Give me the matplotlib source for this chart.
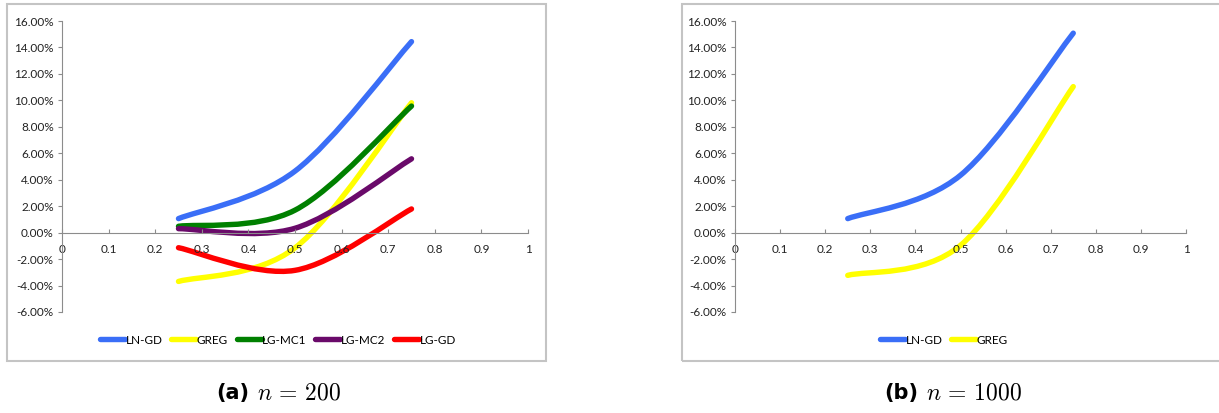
import matplotlib
matplotlib.use("Agg")
import matplotlib.pyplot as plt
from matplotlib.path import Path
from matplotlib.patches import PathPatch, Rectangle
from matplotlib.lines import Line2D
from matplotlib.ticker import FuncFormatter, MultipleLocator

plt.rcParams['font.family'] = ['Lato', 'DejaVu Sans']
plt.rcParams['mathtext.fontset'] = 'cm'

# x values of the three design points
x_pts = [0.25, 0.5, 0.75]

# panel (a) n = 200, bias in %
a_names = ['LN-GD', 'GREG', 'LG-MC1', 'LG-MC2', 'LG-GD']
a_lngd = [1.06, 4.65, 14.44]
a_greg = [-3.69, -1.15, 9.82]
a_mc1 = [0.48, 1.7, 9.57]
a_mc2 = [0.30, 0.33, 5.58]
a_lggd = [-1.14, -2.85, 1.79]

# panel (b) n = 1000
b_names = ['LN-GD', 'GREG']
b_lngd = [1.06, 4.34, 15.08]
b_greg = [-3.23, -0.96, 11.04]

colors = {'LN-GD': '#3a6ef7', 'GREG': '#ffff00', 'LG-MC1': '#008000',
          'LG-MC2': '#6a0a6a', 'LG-GD': '#ff0000'}

W, H = 1219, 413


def smooth_path(xs, ys):
    # Excel style smoothed line: cubic bezier segments (catmull-rom tangents)
    pts = list(zip(xs, ys))
    n = len(pts)
    verts = [pts[0]]
    codes = [Path.MOVETO]
    for i in range(n - 1):
        p0 = pts[i - 1] if i > 0 else pts[i]
        p1 = pts[i]
        p2 = pts[i + 1]
        p3 = pts[i + 2] if i + 2 < n else pts[i + 1]
        c1 = (p1[0] + (p2[0] - p0[0]) / 6, p1[1] + (p2[1] - p0[1]) / 6)
        c2 = (p2[0] - (p3[0] - p1[0]) / 6, p2[1] - (p3[1] - p1[1]) / 6)
        verts += [c1, c2, p2]
        codes += [Path.CURVE4] * 3
    return Path(verts, codes)


def setup(ax):
    ax.set_xlim(0, 1)
    ax.set_ylim(-6, 16)
    ax.spines['top'].set_visible(False)
    ax.spines['right'].set_visible(False)
    ax.spines['bottom'].set_position(('data', 0))
    for s in ['left', 'bottom']:
        ax.spines[s].set_color('#8c8c8c')
        ax.spines[s].set_linewidth(0.8)
    ax.xaxis.set_major_locator(MultipleLocator(0.1))
    ax.yaxis.set_major_locator(MultipleLocator(2))
    ax.xaxis.set_major_formatter(FuncFormatter(lambda v, p: '%g' % round(v, 1)))
    ax.yaxis.set_major_formatter(FuncFormatter(lambda v, p: '%.2f%%' % v))
    ax.tick_params(axis='x', direction='in', length=3, color='#8c8c8c',
                   labelsize=8.5, pad=8, labelcolor='#222222')
    ax.tick_params(axis='y', direction='out', length=3, color='#8c8c8c',
                   labelsize=8.5, pad=3, labelcolor='#222222')
    ax.patch.set_alpha(0)


fig = plt.figure(figsize=(W / 100, H / 100), dpi=100)

# chart frames
fig.patches.append(Rectangle((7 / W, 1 - 361 / H), 539 / W, 357 / H,
                             transform=fig.transFigure, fill=False,
                             edgecolor='#c4c4c4', lw=1.5))
fig.patches.append(Rectangle((682 / W, 1 - 361 / H), 545 / W, 357 / H,
                             transform=fig.transFigure, fill=False,
                             edgecolor='#c4c4c4', lw=1.5))

ax1 = fig.add_axes([62 / W, 1 - 312 / H, 466 / W, 291 / H])
ax2 = fig.add_axes([735 / W, 1 - 312 / H, 451 / W, 291 / H])

panels = [
    (ax1, a_names, [a_lngd, a_greg, a_mc1, a_mc2, a_lggd], 278),
    (ax2, b_names, [b_lngd, b_greg], 944),
]
for ax, names, series, lx in panels:
    setup(ax)
    handles = []
    for name, ys in zip(names, series):
        ax.add_patch(PathPatch(smooth_path(x_pts, ys), fill=False,
                               edgecolor=colors[name], lw=3.9,
                               capstyle='round', joinstyle='round'))
        handles.append(Line2D([], [], color=colors[name], lw=3.9,
                              solid_capstyle='round', label=name))
    fig.legend(handles=handles, loc='center', ncol=len(names),
               bbox_to_anchor=(lx / W, 1 - 340 / H), frameon=False,
               fontsize=8.5, handlelength=2.1, handletextpad=0.05,
               columnspacing=0.75)

# captions
for cx, tag, txt in [(249, '(a)', r'$n\,=\,200$'), (918, '(b)', r'$n\,=\,1000$')]:
    fig.text(cx / W, 1 - 399 / H, tag, ha='right', va='baseline',
             fontsize=15, fontweight='bold', family='DejaVu Sans')
    fig.text((cx + 8) / W, 1 - 399 / H, txt, ha='left', va='baseline',
             fontsize=17)

fig.savefig('out.png', dpi=100)
